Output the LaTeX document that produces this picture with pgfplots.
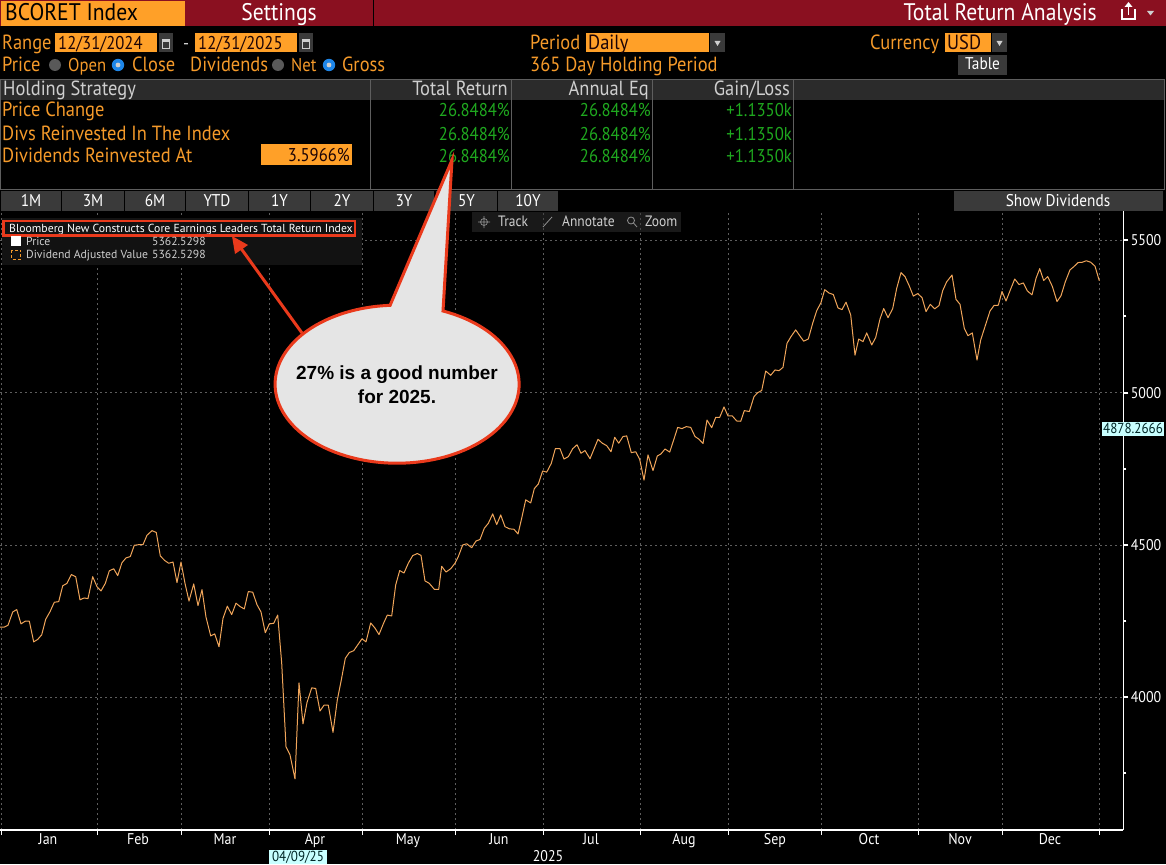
\documentclass[border=0pt]{standalone}
\usepackage{fontspec}
\usepackage{pgfplots}
\pgfplotsset{compat=1.18}
\setmainfont[FakeStretch=0.90]{PT Sans}
\newfontfamily\callfont{Liberation Sans}
\newfontfamily\widefont{PT Sans}
\definecolor{bbmaroon}{HTML}{8A1020}
\definecolor{bborange}{HTML}{FFA028}
\definecolor{bbtext}{HTML}{F59A2A}
\definecolor{bbgreen}{HTML}{1FA81F}
\definecolor{bbline}{HTML}{F0A55A}
\definecolor{bbbar}{HTML}{2B2B2B}
\definecolor{bbbtn}{HTML}{3A3A3A}
\definecolor{bbgrey}{HTML}{CFCFCF}
\definecolor{bbgrid}{HTML}{5E5E5E}
\definecolor{bbcyan}{HTML}{C8FFFF}
\definecolor{bbred}{HTML}{EA3A1C}
\definecolor{bbblue}{HTML}{1E86E8}
\newcommand\fH{\fontsize{24}{26}\selectfont}
\newcommand\fM{\fontsize{20.5}{24}\selectfont}
\newcommand\fD{\fontsize{18.5}{22}\selectfont}
\newcommand\fB{\fontsize{17}{20}\selectfont}
\newcommand\fS{\fontsize{15.5}{18}\selectfont}
\newcommand\fL{\widefont\fontsize{11.7}{13}\selectfont}
\newcommand\fT{\fontsize{15}{17}\selectfont}
\newcommand\fF{\fontsize{14.5}{16}\selectfont}
\newcommand\tx[5][base west]{\node[anchor=#1,inner sep=0pt,text=#3,font=#4] at (#2) {#5};}
\newcommand\radio[2]{\fill[bbblue] (#1,#2) circle (6.2); \fill[bbgrey] (#1,#2) circle (2.4);}
\newcommand\gradio[2]{\fill[gray!70!black] (#1,#2) circle (6);}
\newcommand\calicon[2]{\fill[bbbtn] (#1,33) rectangle (#2,52);
 \draw[bbgrey,line width=.8] ({#1+3.5},39) rectangle ({#2-3.5},48); \fill[bbgrey] ({#1+3.5},39) rectangle ({#2-3.5},42);}
\newcommand\darrow[2]{\fill[bbbtn] (#1,33) rectangle (#2,52);
 \fill[bbgrey] ({(#1+#2)/2-3},41) -- ({(#1+#2)/2+3},41) -- ({(#1+#2)/2},46) -- cycle;}
\newcommand\btn[3]{\fill[bbbtn] (#1,191) rectangle (#2,211); \tx[base]{{(#1+#2)/2},206}{white}{\fB}{#3}}
\begin{document}
\begin{tikzpicture}[x=1pt,y=-1pt]
\useasboundingbox (0,0) rectangle (1166,864);
\fill[black] (0,0) rectangle (1166,864);
\begin{axis}[
  at={(0pt,-830pt)},anchor=south west,
  scale only axis,width=1123.3pt,height=620pt,
  xmin=0,xmax=1123.3,ymin=3564.4,ymax=5599.5,
  axis x line=bottom,axis y line=right,
  axis line style={white,line width=1.3pt,-},
  xtick={1,97,181.7,269.3,362.7,455.3,543.3,640.3,728.7,821.3,918.3,1002.3,1099.3},
  xticklabels={},
  extra x ticks={48,138,225,315,408,499,591,684,775,869,960,1050},
  extra x tick labels={Jan,Feb,Mar,Apr,May,Jun,Jul,Aug,Sep,Oct,Nov,Dec},
  extra tick style={grid=none,major tick length=0pt},
  ytick={4000,4500,5000,5500},
  minor ytick={3750,4250,4750,5250},
  xmajorgrids,ymajorgrids,
  grid style={bbgrid,dash pattern=on 2pt off 3pt,line width=.8pt},
  tick style={white,line width=1pt},
  ytick style={line width=2pt},
  every minor tick/.append style={line width=1pt},
  major tick length=5pt,minor tick length=3pt,
  tick align=outside,
  every x tick label/.append style={font=\fS,text=white},
  every y tick label/.append style={font=\fS,text=white,xshift=-1pt},
  yticklabel style={/pgf/number format/.cd,1000 sep={},assume math mode=true},
  clip=false,
]
\addplot[bbline,line width=1pt,line join=round] coordinates {
(0,4230)(4,4230)(8,4236.5)(12.7,4280)(16.7,4288)(21,4241)(25.3,4250)(29.3,4250)(33.7,4182)(37.7,4190)
(41.7,4205)(45.7,4256)(50,4281)(54.3,4312)(58.7,4314)(62.7,4366)(67,4374)(71.3,4403)(75.7,4396)(80,4320)
(84,4326)(88,4324)(92.7,4396)(97,4363)(101,4349)(105.3,4374)(109.3,4415)(113.7,4422)(117.7,4399.5)(122,4442)
(126,4457.5)(130.3,4462)(134.3,4499)(138.7,4501)(143,4501)(147,4532)(152,4547)(156.3,4541)(160.3,4464)(164.7,4449)
(168.7,4440)(173,4444)(177,4376.5)(181,4444)(185,4374)(189,4316)(193.7,4372)(198,4301)(202,4353.5)(206,4263)
(210.7,4201.5)(214.7,4208)(219,4166)(223,4259)(227.3,4299)(231.7,4271.5)(236,4309)(240,4298)(244.3,4290)(248.3,4347)
(252.7,4345)(257,4304)(261,4280)(265.3,4212)(269.3,4241)(273.7,4243)(277.7,4270)(281.7,4112)(286,3838)(290,3811)
(295,3732)(299,4047)(303,3913)(307,3983)(311.7,4031)(315.7,4029)(320,3955)(324,3974)(328.3,3974)(333,3885)
(337.3,3991)(341.3,4057)(345.3,4128)(349.3,4147)(353.7,4153)(357.7,4172)(362,4192)(366,4182)(370.7,4244)(375,4227)
(379,4206)(383.3,4241)(387.3,4270)(391.7,4267)(395.7,4369)(399.7,4416)
(404,4408)(408.3,4440)(412.7,4465)(417.3,4472)(421,4466)(425,4382)(429.3,4374)(434.3,4354.5)(438.7,4354.5)(441.7,4430)
(446,4411)(450.7,4422)(455,4440)(458.3,4462)(462.7,4500)(466.7,4504)(471.7,4491)(476,4513)(480,4518)(484.3,4555)
(488.3,4571)(492.7,4602)(496.7,4567)(500.7,4598.5)(505,4560)(509.3,4553)(514,4551.5)(518,4536)(521.7,4588)(525.7,4648)
(530.7,4638)(534.3,4685)(538.3,4700)(542.7,4743)(546.7,4739)(551.3,4768)(555.3,4816)(560,4816)(564,4782)(568.3,4790)
(572.7,4816)(577,4829)(581,4801)(585,4810)(590,4783)(594,4815)(598,4847)(602.3,4834)(606.7,4826)(611,4806)
(614.7,4853.5)(618.7,4834)(623,4856)(626.7,4858)(631.3,4803)(635.7,4806)(639.7,4781)(644,4713)(648,4795.5)(653,4744)
(657.3,4792)(661,4799)(665,4815)(669.7,4805)(673.7,4845)(677.7,4886)(682,4882)(686.3,4888.5)(690.7,4886)(695,4856)
(699,4847)(703,4833)(707,4910)(711.7,4885)(715.7,4919)(719.7,4919)(724,4953)(728,4923.5)(732.3,4923.5)(736.7,4907)
(740.7,4906)(744.3,4941)(749.3,4938)(754,4987)(757.7,5000)(761.7,5007)(765.7,5071)(770.7,5057)(775,5074.5)(779,5072)
(783,5083)(787,5162)(791,5184)(795.7,5206)(799.7,5187)(803.7,5169)(808.3,5176)(812.7,5228)(816.7,5269)(821,5295.5)
(824.7,5338)(829,5327)(833.3,5322)(838,5278)(842,5272.5)(846,5297)(850.7,5255)(855,5123)(858.7,5176)(863,5167.5)
(866.7,5196)(871.7,5156.5)(875.7,5181)(880,5242)(883.7,5276)(888,5246)(892.7,5276)(896.7,5342.5)(901,5394)(905,5381)
(909.3,5350)(913.3,5317)(917.7,5325)(922,5312)(926,5266)(930.3,5290)(934.7,5275)(939,5286)(942.7,5335)(946.7,5364)
(952,5386)(956,5306)(960,5290)(964.3,5211)(968,5187)(972.3,5196)(977,5107)(980.7,5173)(985,5217)(990,5268)
(994,5286)(998.3,5287)(1002,5332)(1006,5301)(1010.3,5337)(1014.7,5373)(1019,5355)(1023.3,5360)(1027.3,5334)(1032,5321)
(1036,5375)(1039.7,5407)(1043.7,5368)(1047.7,5381)(1052.3,5349)(1057,5299)(1061,5318)(1065.3,5364)(1070,5403)(1074,5414)
(1078,5427)(1082.3,5428)(1086.3,5433)(1090.7,5428)(1095,5415)(1099.3,5367)
};
\end{axis}
% header
\fill[bbmaroon] (0,0) rectangle (1166,26.5);
\fill[bborange] (1,1) rectangle (185,26);
\fill[black] (373,0) rectangle (374,26.5);
\tx{5,21}{black}{\fH}{BCORET Index}
\tx[base]{279,21}{white}{\fH}{Settings}
\tx[base east]{1097,21}{white}{\fH}{Total Return Analysis}
\draw[white,line width=1.6] (1122,9) -- (1122,19) -- (1135,19) -- (1135,9);
\draw[white,line width=1.6] (1128.5,15) -- (1128.5,4);
\fill[white] (1124.5,7) -- (1128.5,2) -- (1132.5,7) -- cycle;
\fill[bbgrey] (1147,11) -- (1154,11) -- (1150.5,15.5) -- cycle;
% row 2
\tx{2,50}{bbtext}{\fM}{Range}
\fill[bborange] (55,33) rectangle (157,52); \tx{58,49.5}{black!80!bbmaroon}{\fD}{12/31/2024}
\calicon{159}{173}
\tx{183,50}{bbgrey}{\fD}{-}
\fill[bborange] (195,33) rectangle (297,52); \tx{198,49.5}{black!80!bbmaroon}{\fD}{12/31/2025}
\calicon{299}{313}
\tx{530,50}{bbtext}{\fM}{Period}
\fill[bborange] (586,33) rectangle (709,52); \tx{588,49.5}{black!80!bbmaroon}{\fM}{Daily}
\darrow{710}{725}
\tx{870,50}{bbtext}{\fM}{Currency}
\fill[bborange] (945,33) rectangle (991,52); \tx{947,49.5}{black!80!bbmaroon}{\fM}{USD}
\darrow{992}{1007}
% row 3
\tx{2,72}{bbtext}{\fM}{Price}
\gradio{55}{65} \tx{68,72}{bbtext}{\fD}{Open}
\radio{118}{65} \tx{132,72}{bbtext}{\fM}{Close}
\tx{190,72}{bbtext}{\fM}{Dividends}
\gradio{278}{65} \tx{291,72}{bbtext}{\fD}{Net}
\radio{329}{65} \tx{342,72}{bbtext}{\fM}{Gross}
\tx{530,72}{bbtext}{\fM}{365 Day Holding Period}
\fill[bbbtn] (958,55) rectangle (1007,75); \tx[base]{982.5,70}{white}{\fB}{Table}
% table
\fill[bbbar] (0,79) rectangle (1164,100);
\draw[bbgrid,line width=.8] (0.5,79) rectangle (1164,189);
\foreach \c in {370,511,652,793} {\draw[bbgrid,line width=.8] (\c,79) -- (\c,189);}
\tx{3,96}{bbgrey}{\fM}{Holding Strategy}
\tx[base east]{508,96}{bbgrey}{\fM}{Total Return}
\tx[base east]{649,96}{bbgrey}{\fM}{Annual Eq}
\tx[base east]{790,96}{bbgrey}{\fM}{Gain/Loss}
\tx{2,117}{bbtext}{\fM}{Price Change}
\tx{2,140}{bbtext}{\fM}{Divs Reinvested In The Index}
\tx{2,162}{bbtext}{\fM}{Dividends Reinvested At}
\fill[bborange] (261,144) rectangle (352,165);
\tx[base east]{350,161}{black!80!bbmaroon}{\fD}{3.5966\%}
\foreach \yy in {117,140,162} {
 \tx[base east]{510,\yy}{bbgreen}{\fD}{26.8484\%}
 \tx[base east]{651,\yy}{bbgreen}{\fD}{26.8484\%}
 \tx[base east]{792,\yy}{bbgreen}{\fD}{+1.1350k}
}
% range buttons
\btn{1}{61}{1M} \btn{62}{124}{3M} \btn{125}{185}{6M} \btn{186}{248}{YTD}
\btn{249}{310}{1Y} \btn{311}{373}{2Y} \btn{374}{434}{3Y} \btn{436}{497}{5Y} \btn{498}{558}{10Y}
\fill[bbbtn] (954,191) rectangle (1163,211); \tx[base]{1058,206}{white}{\fB}{Show Dividends}
% track buttons
\fill[black!80!white,opacity=.5] (472,212) rectangle (681,232);
\draw[bbgrey!70!black,line width=.7] (484,222) circle (3.5) (478,222) -- (490,222) (484,216) -- (484,228);
\tx{498,226}{bbgrey}{\fT}{Track}
\draw[bbgrey!70!black,line width=.8] (543,227) -- (552,217);
\tx{562,226}{bbgrey}{\fT}{Annotate}
\draw[bbgrey!70!black,line width=.8] (631,220.5) circle (3.5) (633.5,223) -- (637,227);
\tx{645,226}{bbgrey}{\fT}{Zoom}
% legend
\fill[black!93!white] (2,218) rectangle (362,265);
\tx{9,232}{white}{\fL}{Bloomberg New Constructs Core Earnings Leaders Total Return Index}
\draw[bbred,line width=2.4] (3.5,221) rectangle (355,235.5);
\fill[white] (11,236) rectangle (21,246);
\tx{26,245.5}{bbgrey}{\fL}{Price}
\tx{152,245.5}{bbgrey}{\fL}{5362.5298}
\draw[bbtext,line width=1,densely dashed] (11.5,250) rectangle (20.5,259);
\tx{26,258.5}{bbgrey}{\fL}{Dividend Adjusted Value}
\tx{152,258.5}{bbgrey}{\fL}{5362.5298}
% value and date flags
\fill[bbcyan] (1102,422) rectangle (1164,436); \tx[base]{1133,433.5}{black!70!teal}{\fF}{4878.2666}
\fill[bbcyan] (269,850) rectangle (327,864); \tx[base]{298,861.5}{black!70!teal}{\fF}{04/09/25}
\tx[base]{548,861}{white}{\fS}{2025}
% annotation arrow
\draw[bbred,line width=3] (302,333) -- (240,247);
\fill[bbred] (232,236) -- (248,245) -- (235,254) -- cycle;
% callout
\filldraw[draw=bbred,fill=black!10!white,line width=3,line join=miter]
 (443,311) arc[start angle=-67.9,end angle=266.7,x radius=122,y radius=79] -- (452,160) -- cycle;
\node[anchor=base,inner sep=0pt,text=black,font={\callfont\bfseries\fontsize{19}{21}\selectfont}] at (397,379) {27\% is a good number};
\node[anchor=base,inner sep=0pt,text=black,font={\callfont\bfseries\fontsize{19}{21}\selectfont}] at (397,403) {for 2025.};
\end{tikzpicture}
\end{document}
